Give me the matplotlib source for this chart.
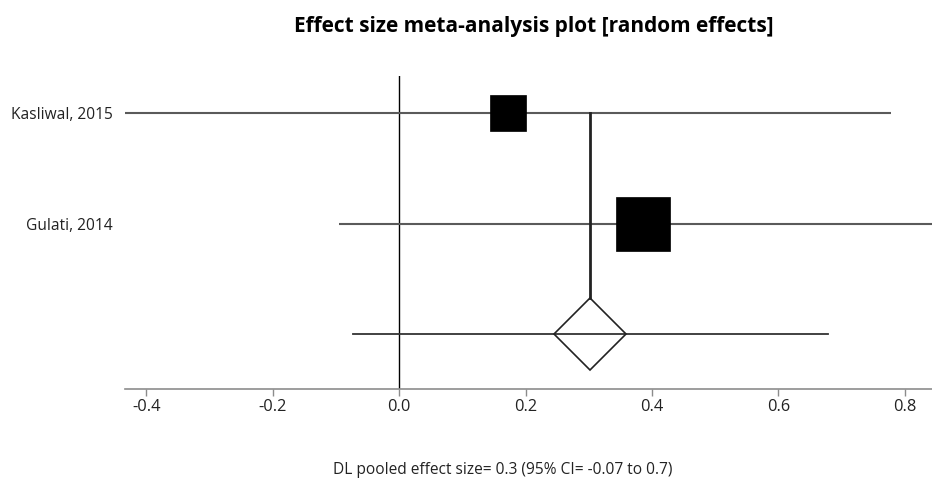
import numpy as np
import matplotlib
matplotlib.use("Agg")
import matplotlib.pyplot as plt

# Study-level results (effect size with 95% CI) and random-effects weights (%)
studies = ["Kasliwal, 2015", "Gulati, 2014"]
effects = [0.172, 0.385]
ci_low = [-0.45, -0.095]
ci_high = [0.778, 0.87]
weights = [30, 70]

# DerSimonian-Laird pooled estimate
pooled_effect = 0.302
pooled_low = -0.073
pooled_high = 0.679
pooled_label = "DL pooled effect size= 0.3 (95% CI= -0.07 to 0.7)"

xticks = [-0.4, -0.2, 0.0, 0.2, 0.4, 0.6, 0.8]

plt.rcParams["font.family"] = ["Open Sans", "DejaVu Sans"]

fig = plt.figure(figsize=(9.32, 4.83), dpi=100)
ax = fig.add_axes([0.1341, 0.1946, 0.8659, 0.6481])

rows = np.arange(len(studies) + 1, 1, -1)  # study rows from top
pooled_row = 1

ax.axvline(0, color="black", lw=1.0, zorder=1)

for y, e, lo, hi, w in zip(rows, effects, ci_low, ci_high, weights):
    ax.plot([lo, hi], [y, y], color="#5a5a5a", lw=1.5, zorder=2, solid_capstyle="butt")
    ax.plot([e], [y], marker="s", ms=47.3 * np.sqrt(w / 100), color="black",
            mec="black", mew=0.5, zorder=3, linestyle="none")

ax.plot([pooled_low, pooled_high], [pooled_row, pooled_row], color="#333333", lw=1.3, zorder=2)
diamond_half = 0.33
ax.plot([pooled_effect, pooled_effect], [rows[0], pooled_row + diamond_half],
        color="#222222", lw=2.0, zorder=2)
ax.plot([pooled_effect], [pooled_row], marker="D", ms=37.0, mfc="none",
        mec="#222222", mew=1.2, zorder=3, linestyle="none")

ax.set_xlim(-0.434, 0.843)
ax.set_ylim(0.502, 3.34)

for s in ["top", "right", "left"]:
    ax.spines[s].set_visible(False)
ax.spines["bottom"].set_color("#8c8c8c")
ax.spines["bottom"].set_linewidth(1.2)
ax.set_xticks(xticks)
ax.set_xticklabels([f"{t:.1f}" for t in xticks])
ax.tick_params(axis="x", colors="#8c8c8c", length=5, width=1, labelsize=11.8,
               labelcolor="#222222", pad=2)
ax.set_yticks(rows)
ax.set_yticklabels(studies)
ax.tick_params(axis="y", length=0, labelsize=11.2, labelcolor="#222222", pad=9)

fig.text(0.573, 0.945, "Effect size meta-analysis plot [random effects]",
         ha="center", va="center", fontsize=15, fontweight="bold", color="black")
fig.text(0.539, 0.027, pooled_label, ha="center", va="center", fontsize=11.2,
         color="#222222")

fig.savefig("out.png", dpi=100)
